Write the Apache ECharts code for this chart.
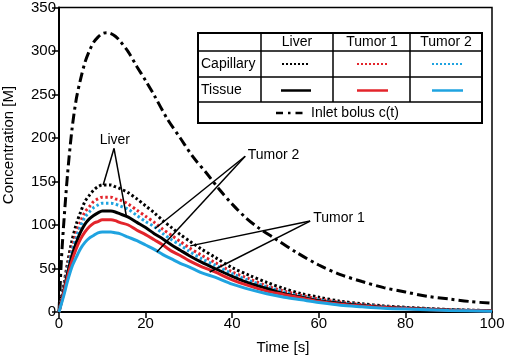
<!DOCTYPE html>
<html>
<head>
<meta charset="utf-8">
<script src="https://cdn.jsdelivr.net/npm/echarts@6/dist/echarts.min.js"></script>
<style>
  html, body { margin: 0; padding: 0; background: #fff; }
  #chart { width: 510px; height: 359px; }
</style>
</head>
<body>
<div id="chart"></div>
<script>
// time points [s]
const bolusTime = [0, 0.5, 1, 2, 3, 4, 5, 6, 7, 8, 9, 10, 11, 12, 13, 14, 16, 18, 20, 22, 25, 28, 31, 34, 37, 40, 43, 46, 50, 55, 60, 65, 70, 75, 80, 85, 90, 95, 100]
const bolus = [0, 55, 95, 160, 210, 245, 268, 287, 300, 310, 316, 320, 321, 320, 317, 312, 299, 282, 266, 249, 222, 200, 178, 160, 141, 124, 109, 97, 84, 68, 54, 43, 35, 28, 23, 18, 15, 12, 10]

const time = [0, 1, 2, 3, 4, 5, 6, 7, 8, 9, 10, 11, 12, 13, 14, 16, 18, 20, 22, 24, 26, 28, 30, 33, 36, 40, 44, 48, 52, 56, 60, 65, 70, 75, 80, 90, 100]
const liverCap = [0, 28, 57, 82, 101, 115, 127, 134, 140, 144, 146, 146, 146, 144, 142, 137, 130, 122, 114, 105, 97, 89, 82, 72, 63, 51, 42, 34, 27, 21, 17, 12.4, 9.5, 7, 5.4, 2.9, 1.6]
const tumor1Cap = [0, 25, 51, 74, 91, 104, 115, 121, 127, 130, 132, 132, 132, 130, 129, 124, 117, 110, 103, 95, 88, 81, 74, 65, 57, 46, 38, 30, 24, 19, 15, 11.2, 8.6, 6.3, 4.9, 2.6, 1.5]
const tumor2Cap = [0, 24, 49, 70, 86, 99, 109, 115, 120, 123, 125, 125, 125, 124, 122, 118, 111, 104, 98, 90, 83, 77, 70, 61, 54, 44, 36, 29, 23, 18, 14, 10.6, 8.1, 6, 4.6, 2.5, 1.4]
const liverTis = [0, 22, 45, 65, 80, 92, 101, 107, 111, 114, 116, 116, 116, 115, 113, 109, 103, 97, 90, 84, 77, 71, 65, 57, 50, 41, 33, 27, 21, 17, 13, 9.9, 7.5, 5.6, 4.3, 2.3, 1.3]
const tumor1Tis = [0, 20, 41, 59, 73, 84, 92, 98, 102, 104, 106, 106, 106, 105, 103, 100, 94, 89, 83, 77, 70, 65, 59, 52, 46, 37, 30, 24, 20, 16, 12, 9, 6.9, 5.1, 3.9, 2.1, 1.2]
const tumor2Tis = [0, 17, 36, 52, 63, 73, 80, 85, 88, 91, 92, 92, 92, 91, 90, 86, 82, 77, 72, 66, 61, 56, 52, 45, 40, 32, 26, 21, 17, 14, 11, 7.8, 6, 4.4, 3.4, 1.8, 1.0]

// callouts: label text, label anchor [t, c], line ends [[t, c], ...]
const callouts = [
  { text: 'Liver', at: [12.9, 197], align: 'center', apex: [12.7, 188], ends: [[10.2, 146], [15.6, 109]] },
  { text: 'Tumor 2', at: [43.6, 180], align: 'left', apex: [43, 179], ends: [[22.2, 96], [22.6, 69]] },
  { text: 'Tumor 1', at: [58.7, 108], align: 'left', apex: [58, 104.5], ends: [[30.3, 76], [34.8, 46]] },
]

const BLACK = '#000'
const RED = '#e3242b'
const BLUE = '#1fa3e0'
const FONT = 'Liberation Sans, Arial, sans-serif'
const DOT = [2.5, 2.5]
const DASHDOT = [10, 4, 3, 4]

const pairs = (xs, ys) => xs.map((x, i) => [x, ys[i]])

function line(name, xs, ys, color, type, width) {
  return {
    name,
    type: 'line',
    data: pairs(xs, ys),
    smooth: 0.3,
    showSymbol: false,
    symbol: 'none',
    lineStyle: { color, width, type },
    z: 3,
  }
}

const chart = echarts.init(document.getElementById('chart'))

// legend table (pixel layout)
function legendTable() {
  const L = 198, R = 482, T = 33, B = 123
  const cols = [261, 333, 410]
  const rows = [51, 77, 102]
  const els = []
  els.push({ type: 'rect', shape: { x: L, y: T, width: R - L, height: B - T }, style: { fill: '#fff', stroke: BLACK, lineWidth: 2 }, z: 10 })
  rows.forEach((y) => els.push({ type: 'line', shape: { x1: L, y1: y, x2: R, y2: y }, style: { stroke: BLACK, lineWidth: 1.5 }, z: 11 }))
  cols.forEach((x) => els.push({ type: 'line', shape: { x1: x, y1: T, x2: x, y2: rows[2] }, style: { stroke: BLACK, lineWidth: 1.5 }, z: 11 }))
  const txt = (text, x, y, align) => ({
    type: 'text', x, y, z: 12,
    style: { text, fill: BLACK, font: '14px ' + FONT, align: align || 'center', verticalAlign: 'middle' },
  })
  els.push(txt('Liver', 297, 42), txt('Tumor 1', 372, 42), txt('Tumor 2', 446, 42))
  els.push(txt('Capillary', 201, 64, 'left'), txt('Tissue', 201, 90, 'left'))
  const seg = (x1, x2, y, color, dash) => ({
    type: 'line', z: 12, shape: { x1, y1: y, x2, y2: y },
    style: { stroke: color, lineWidth: dash ? 2 : 2.5, lineDash: dash || null },
  })
  els.push(seg(282, 310, 64, BLACK, [2, 2]), seg(357, 388, 64, RED, [2, 2]), seg(432, 463, 64, BLUE, [2, 2]))
  els.push(seg(281, 311, 90.5, BLACK), seg(357, 388, 90.5, RED), seg(432, 463, 90.5, BLUE))
  els.push({ type: 'line', z: 12, shape: { x1: 276, y1: 113, x2: 307, y2: 113 }, style: { stroke: BLACK, lineWidth: 2.5, lineDash: [7, 5, 2.5, 5] } })
  els.push(txt('Inlet bolus c(t)', 311, 113, 'left'))
  return els
}

chart.setOption({
  animation: false,
  backgroundColor: '#fff',
  grid: { left: 59, right: 18, top: 7, bottom: 47, show: true, borderColor: BLACK, borderWidth: 1.5 },
  xAxis: {
    type: 'value', min: 0, max: 100, interval: 20,
    axisLine: { lineStyle: { color: BLACK, width: 2 } },
    axisTick: { length: 6, lineStyle: { color: BLACK, width: 1.5 } },
    axisLabel: { color: BLACK, fontSize: 15, fontFamily: FONT, margin: 4 },
    splitLine: { show: false },
  },
  yAxis: {
    type: 'value', min: 0, max: 350, interval: 50,
    axisLine: { show: true, lineStyle: { color: BLACK, width: 2 } },
    axisTick: { show: true, length: 7, lineStyle: { color: BLACK, width: 1.5 } },
    axisLabel: { color: BLACK, fontSize: 15, fontFamily: FONT, margin: 3 },
    splitLine: { show: false },
  },
  series: [
    line('Inlet bolus c(t)', bolusTime, bolus, BLACK, DASHDOT, 3),
    line('Liver capillary', time, liverCap, BLACK, DOT, 3),
    line('Tumor 1 capillary', time, tumor1Cap, RED, DOT, 3),
    line('Tumor 2 capillary', time, tumor2Cap, BLUE, DOT, 3),
    line('Liver tissue', time, liverTis, BLACK, 'solid', 3),
    line('Tumor 1 tissue', time, tumor1Tis, RED, 'solid', 3),
    line('Tumor 2 tissue', time, tumor2Tis, BLUE, 'solid', 3),
  ],
})

// callouts and axis names placed from data coordinates
const px = (p) => chart.convertToPixel({ gridIndex: 0 }, p)
const graphics = legendTable()
callouts.forEach((c) => {
  const a = px(c.apex)
  c.ends.forEach((e) => {
    const b = px(e)
    graphics.push({ type: 'line', z: 8, shape: { x1: a[0], y1: a[1], x2: b[0], y2: b[1] }, style: { stroke: BLACK, lineWidth: 1.5 } })
  })
  const t = px(c.at)
  graphics.push({
    type: 'text', x: t[0], y: t[1], z: 8,
    style: { text: c.text, fill: BLACK, font: '14px ' + FONT, align: c.align, verticalAlign: 'middle' },
  })
})
graphics.push({
  type: 'text', x: 9, y: 145, rotation: Math.PI / 2,
  style: { text: 'Concentration [M]', fill: BLACK, font: '15px ' + FONT, align: 'center', verticalAlign: 'middle' },
})
graphics.push({
  type: 'text', x: 283, y: 348,
  style: { text: 'Time [s]', fill: BLACK, font: '15px ' + FONT, align: 'center', verticalAlign: 'middle' },
})
chart.setOption({ graphic: graphics })
</script>
</body>
</html>
